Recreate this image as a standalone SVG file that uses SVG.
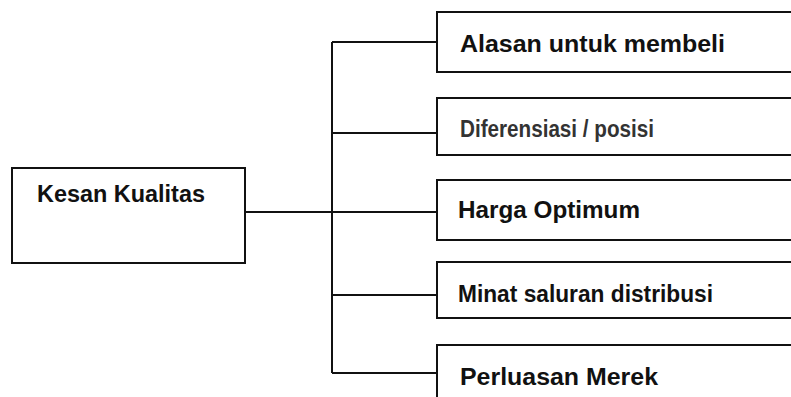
<svg xmlns="http://www.w3.org/2000/svg" width="791" height="397" viewBox="0 0 791 397">
<style>
.box{fill:#fff;stroke:#111;stroke-width:2}
.lbl{font-family:"Liberation Sans",Arial,sans-serif;fill:#111;font-size:23px;font-weight:bold}
.light{fill:#333}
.conn{stroke:#111;stroke-width:2;fill:none}
</style>
<rect width="791" height="397" fill="#fff"/>
<g id="connectors">
<path class="conn" d="M245 212H332M332 42V373M332 42H437M332 133H437M332 212H437M332 295H437M332 373H437"/>
</g>
<g id="kesan-kualitas">
<rect class="box" x="12" y="168" width="233" height="95"/>
<text class="lbl" x="37" y="202" font-size="20" textLength="168" lengthAdjust="spacingAndGlyphs">Kesan Kualitas</text>
</g>
<g id="alasan">
<rect class="box" x="437" y="12" width="370" height="60"/>
<text class="lbl" x="460" y="52" textLength="265" lengthAdjust="spacingAndGlyphs">Alasan untuk membeli</text>
</g>
<g id="diferensiasi">
<rect class="box" x="437" y="98" width="370" height="57"/>
<text class="lbl light" x="460" y="137" textLength="194" lengthAdjust="spacingAndGlyphs">Diferensiasi / posisi</text>
</g>
<g id="harga">
<rect class="box" x="437" y="180" width="370" height="60"/>
<text class="lbl" x="458" y="218" textLength="182" lengthAdjust="spacingAndGlyphs">Harga Optimum</text>
</g>
<g id="minat">
<rect class="box" x="437" y="262" width="370" height="56"/>
<text class="lbl" x="458" y="302" textLength="255" lengthAdjust="spacingAndGlyphs">Minat saluran distribusi</text>
</g>
<g id="perluasan">
<rect class="box" x="437" y="345" width="370" height="70"/>
<text class="lbl" x="460" y="385" textLength="198" lengthAdjust="spacingAndGlyphs">Perluasan Merek</text>
</g>
</svg>
